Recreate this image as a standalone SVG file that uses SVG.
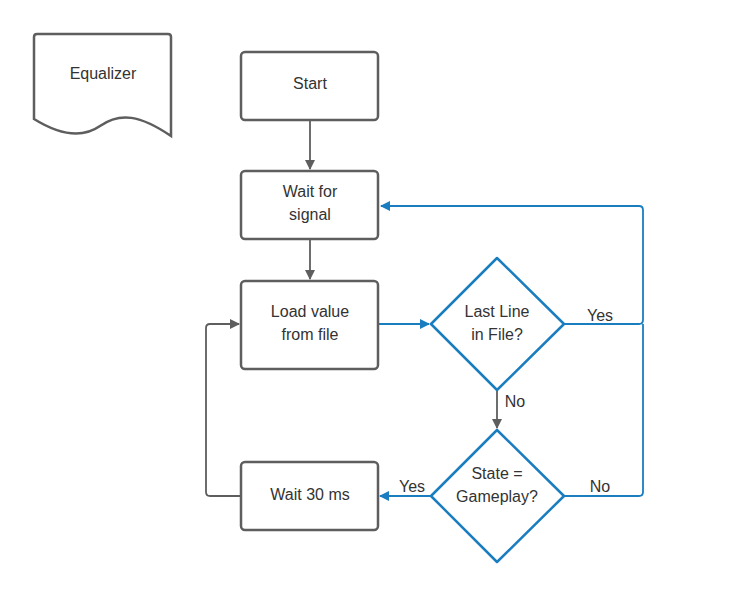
<svg xmlns="http://www.w3.org/2000/svg" width="738" height="599" viewBox="0 0 738 599">
<style>
.n{fill:#fff;stroke:#5e5e5e;stroke-width:2.5}
.d{fill:#fff;stroke:#1a7dc0;stroke-width:2.5;stroke-linejoin:round}
text{font-family:"Liberation Sans",Arial,sans-serif;font-size:16px;fill:#333;text-anchor:middle}
.g{fill:none;stroke:#5e5e5e;stroke-width:1.8}
.b{fill:none;stroke:#1a7dc0;stroke-width:1.8}
</style>
<defs>
<marker id="ag" markerWidth="10" markerHeight="10" refX="9" refY="5" orient="auto" markerUnits="userSpaceOnUse"><path d="M0,0 L10,5 L0,10 Z" fill="#5e5e5e"/></marker>
<marker id="ab" markerWidth="10" markerHeight="10" refX="9" refY="5" orient="auto" markerUnits="userSpaceOnUse"><path d="M0,0 L10,5 L0,10 Z" fill="#1a7dc0"/></marker>
</defs>
<rect width="738" height="599" fill="#fff"/>
<g id="equalizer"><path class="n" d="M37,34 H168 Q171,34 171,37 V136 C140,115 120,112 100,126 C80,140 55,132 34,119 V37 Q34,34 37,34 Z"/><text x="103" y="79">Equalizer</text></g>
<g id="start"><rect class="n" x="241" y="52" width="137" height="68" rx="4"/><text x="310" y="89">Start</text></g>
<g id="wait"><rect class="n" x="241" y="171" width="137" height="68" rx="4"/><text x="310" y="197">Wait for</text><text x="310" y="220">signal</text></g>
<g id="load"><rect class="n" x="241" y="281" width="137" height="88" rx="4"/><text x="310" y="317">Load value</text><text x="310" y="340">from file</text></g>
<g id="wait30"><rect class="n" x="241" y="462" width="137" height="68" rx="4"/><text x="310" y="500">Wait 30 ms</text></g>
<g id="last"><path class="d" d="M497,258 L564,324 L497,390 L431,324 Z"/><text x="497" y="317">Last Line</text><text x="497" y="340">in File?</text></g>
<g id="state"><path class="d" d="M497,430 L564,496 L497,562 L431,496 Z"/><text x="497" y="479">State =</text><text x="497" y="502">Gameplay?</text></g>
<g id="connectors">
<path class="g" d="M310,121 V169" marker-end="url(#ag)"/>
<path class="g" d="M310,240 V279" marker-end="url(#ag)"/>
<path class="b" d="M379,324 H429" marker-end="url(#ab)"/>
<path class="g" d="M497,391 V428" marker-end="url(#ag)"/>
<path class="b" d="M564,324 H639 Q643,324 643,320 V210 Q643,206 639,206 H381" marker-end="url(#ab)"/>
<path class="b" d="M564,496 H639 Q643,496 643,492 V324"/>
<path class="b" d="M431,496 H380" marker-end="url(#ab)"/>
<path class="g" d="M240,496 H210 Q206,496 206,492 V328 Q206,324 210,324 H239" marker-end="url(#ag)"/>
<text x="600" y="321">Yes</text>
<text x="515" y="407">No</text>
<text x="412" y="492">Yes</text>
<text x="600" y="492">No</text>
</g>
</svg>
